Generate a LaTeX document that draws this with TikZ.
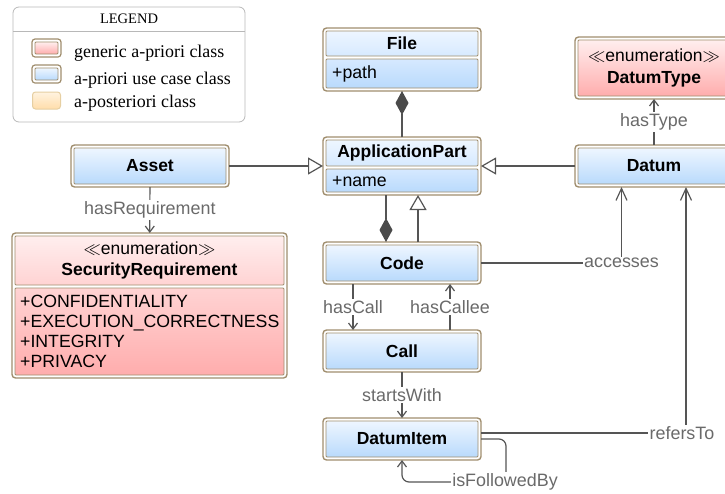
\documentclass[tikz,border=0pt]{standalone}
\usepackage{fontspec}
\setmainfont{Liberation Sans}
\newfontfamily\legfont{Liberation Serif}
\usetikzlibrary{arrows.meta}
\definecolor{brd}{RGB}{160,142,110}
\definecolor{btop}{HTML}{EEF6FF}
\definecolor{bmid}{HTML}{D6E9FF}
\definecolor{bbot}{HTML}{B9DAFC}
\definecolor{ptop}{HTML}{FFEEEE}
\definecolor{pmid}{HTML}{FFD3D3}
\definecolor{pbot}{HTML}{FFADAD}
\definecolor{otop}{HTML}{FFF3E0}
\definecolor{obot}{HTML}{FFDDAA}
\definecolor{obrd}{HTML}{E6CFA2}
\definecolor{lnc}{HTML}{555555}
\definecolor{lblc}{HTML}{6A6A6A}
\definecolor{legc}{HTML}{B8B8B8}
\definecolor{dia}{HTML}{4A4A4A}
\begin{document}
\begin{tikzpicture}[x=1pt,y=-1pt,
  umlframe/.style={draw=brd, line width=1.4pt, rounded corners=3.5pt, fill=white, inner sep=0pt, outer sep=0pt},
  cmp/.style={draw=brd, line width=0.8pt, rounded corners=1pt, inner sep=0pt, outer sep=0pt},
  bfull/.style={cmp, top color=btop, bottom color=bbot},
  bhi/.style={cmp, top color=btop, bottom color=bmid},
  blo/.style={cmp, top color=bmid, bottom color=bbot},
  pfull/.style={cmp, top color=ptop, bottom color=pbot},
  phi/.style={cmp, top color=ptop, bottom color=pmid},
  plo/.style={cmp, top color=pmid, bottom color=pbot},
  ttl/.style={font=\fontsize{17.5}{20}\selectfont\bfseries},
  stereo/.style={font=\fontsize{17.5}{21.6}\selectfont, align=center},
  attrtxt/.style={font=\fontsize{17.7}{20}\selectfont, anchor=west, inner sep=0pt, align=left},
  lbl/.style={font=\fontsize{17.9}{20}\selectfont, text=lblc, fill=white, inner sep=1.5pt},
  legtxt/.style={font=\legfont\fontsize{17.9}{20}\selectfont, anchor=base west, inner sep=0pt},
  conn/.style={draw=lnc, line width=1.2pt},
  assoc/.style={conn, -{Straight Barb[length=6pt,width=9pt,line width=1.2pt]}},
  bigassoc/.style={conn, -{Straight Barb[length=12pt,width=11pt,line width=1.2pt]}},
  gen/.style={conn, -{Triangle[length=15pt,width=17pt,fill=white,line width=1.2pt]}},
  compo/.style={conn, -{Diamond[length=24pt,width=13pt,fill=dia,color=dia]}}
]
\useasboundingbox (0,0) rectangle (725,493);
\clip (0,0) rectangle (725,493);

% ---------- legend ----------
\node[draw=legc, line width=0.8pt, rounded corners=6pt, minimum width=232pt, minimum height=115pt, inner sep=0pt, outer sep=0pt] (legend) at (129,64.5) {};
\draw[legc, line width=0.8pt] ([yshift=-24pt]legend.north west) -- ([yshift=-24pt]legend.north east);
\node[font=\legfont\fontsize{14.5}{16}\selectfont] (legT) at (129,19) {LEGEND};
\node[umlframe, line width=1.2pt, rounded corners=3pt, minimum width=29pt, minimum height=18pt] (sw1) at (46.5,48) {};
\node[pfull, minimum width=23pt, minimum height=12pt] (sw1i) at (46.5,48) {};
\node[umlframe, line width=1.2pt, rounded corners=3pt, minimum width=29pt, minimum height=18pt] (sw2) at (46.5,74) {};
\node[bfull, minimum width=23pt, minimum height=12pt] (sw2i) at (46.5,74) {};
\node[draw=obrd, line width=1pt, rounded corners=3pt, top color=otop, bottom color=obot, minimum width=28pt, minimum height=17pt, inner sep=0pt] (sw3) at (46.5,100.5) {};
\node[legtxt] (lg1) at (74,57.3) {generic a-priori class};
\node[legtxt] (lg2) at (74,84) {a-priori use case class};
\node[legtxt] (lg3) at (74,107.3) {a-posteriori class};

% ---------- File ----------
\node[umlframe, minimum width=158pt, minimum height=63pt] (file) at (402,59.5) {};
\node[bhi, ttl, minimum width=152pt, minimum height=25pt] (fileT) at (402,43.5) {File};
\node[blo, minimum width=152pt, minimum height=29pt] (fileA) at (402,73.5) {};
\node[attrtxt] (fileP) at (332,73.5) {+path};

% ---------- ApplicationPart ----------
\node[umlframe, minimum width=158pt, minimum height=58pt] (ap) at (402,166) {};
\node[bhi, ttl, minimum width=152pt, minimum height=26pt] (apT) at (402,153) {ApplicationPart};
\node[blo, minimum width=152pt, minimum height=23pt] (apA) at (402,180.5) {};
\node[attrtxt] (apN) at (332,181) {+name};

% ---------- Code, Call, DatumItem ----------
\node[umlframe, minimum width=158pt, minimum height=42pt] (code) at (402,263) {};
\node[bfull, ttl, minimum width=152pt, minimum height=36pt] (codeT) at (402,263) {Code};
\node[umlframe, minimum width=158pt, minimum height=42pt] (call) at (402,351) {};
\node[bfull, ttl, minimum width=152pt, minimum height=36pt] (callT) at (402,351) {Call};
\node[umlframe, minimum width=158pt, minimum height=42pt] (di) at (402,439) {};
\node[bfull, ttl, minimum width=152pt, minimum height=36pt] (diT) at (402,439) {DatumItem};

% ---------- Asset ----------
\node[umlframe, minimum width=158pt, minimum height=42pt] (asset) at (150,166) {};
\node[bfull, ttl, minimum width=152pt, minimum height=36pt] (assetT) at (150,166) {Asset};

% ---------- SecurityRequirement ----------
\node[umlframe, minimum width=275pt, minimum height=145pt] (sr) at (149.5,305.5) {};
\node[phi, stereo, minimum width=269pt, minimum height=49pt] (srT) at (149.5,260.5) {$\ll$enumeration$\gg$\\\textbf{SecurityRequirement}};
\node[plo, minimum width=269pt, minimum height=87pt] (srA) at (149.5,331.5) {};
\node[attrtxt] (srL) at (20,331.5) {+CONFIDENTIALITY\\+EXECUTION\_CORRECTNESS\\+INTEGRITY\\+PRIVACY};

% ---------- Datum, DatumType ----------
\node[umlframe, minimum width=158pt, minimum height=42pt] (datum) at (654,166) {};
\node[bfull, ttl, minimum width=152pt, minimum height=36pt] (datumT) at (654,166) {Datum};
\node[umlframe, minimum width=158pt, minimum height=62pt] (dt) at (654,68) {};
\node[pfull, stereo, minimum width=152pt, minimum height=56pt] (dtT) at (654,68) {$\ll$enumeration$\gg$\\\textbf{DatumType}};

% ---------- connectors ----------
\draw[compo] (ap.north) -- (file.south);
\draw[gen] (asset) -- (ap);
\draw[gen] (datum) -- (ap);
\draw[compo] ([xshift=-16pt]ap.south) -- ([xshift=-16pt]code.north);
\draw[gen] ([xshift=16pt]code.north) -- ([xshift=16pt]ap.south);
\draw[assoc] ([xshift=-49pt]code.south) -- node[lbl] (lhc) {hasCall} ([xshift=-49pt]call.north);
\draw[assoc] ([xshift=48pt]call.north) -- node[lbl] (lhce) {hasCallee} ([xshift=48pt]code.south);
\draw[assoc] (call) -- node[lbl] (lsw) {startsWith} (di);
\draw[assoc] (asset) -- node[lbl] (lhr) {hasRequirement} (sr);
\draw[assoc] (datum) -- node[lbl] (lht) {hasType} (dt);

\coordinate (accC) at (621.5,263);
\draw[bigassoc] (code.east) -- (accC) -- (accC |- datum.south);
\node[lbl] (lacc) at (accC) {accesses};

\coordinate (refC) at (686,433);
\draw[bigassoc] ([yshift=6pt]di.east) -- (refC) -- (refC |- datum.south);
\node[lbl] (lref) at (682,433) {refersTo};

\coordinate (fbA) at (506,439);
\coordinate (fbB) at (506,482);
\draw[assoc, rounded corners=7pt] (di.east) -- (fbA) -- (fbB) -- (fbB -| di.south) -- (di.south);
\node[lbl] (lfb) at (505,482) {isFollowedBy};
\end{tikzpicture}
\end{document}
